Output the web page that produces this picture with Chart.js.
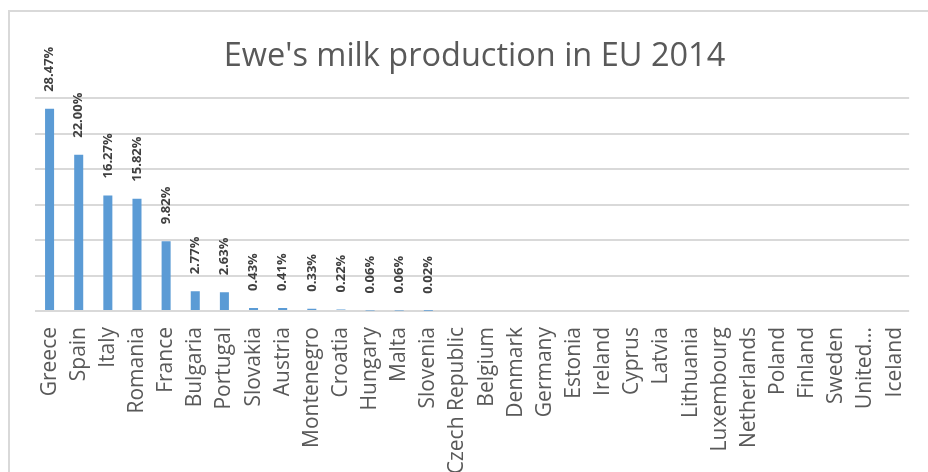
<!DOCTYPE html>
<html>
<head>
<meta charset="utf-8">
<title>Ewe's milk production in EU 2014</title>
<script src="https://cdn.jsdelivr.net/npm/chart.js@4/dist/chart.umd.min.js"></script>
<style>
  html, body { margin: 0; padding: 0; background: #fff; overflow: hidden; }
  #wrap { position: relative; width: 928px; height: 472px; }
  /* light frame round the chart, runs off the right and bottom edges */
  #frame { position: absolute; left: 8px; top: 10px; width: 940px; height: 480px;
           border: 2px solid #d9d9d9; box-sizing: border-box; }
  #myChart { position: absolute; left: 0; top: 0; }
</style>
</head>
<body>
<div id="wrap">
  <div id="frame"></div>
  <canvas id="myChart" width="928" height="472"></canvas>
</div>
<script>
// paises (share of EU ewe's milk, %)
var paises = ['Greece', 'Spain', 'Italy', 'Romania', 'France', 'Bulgaria', 'Portugal',
  'Slovakia', 'Austria', 'Montenegro', 'Croatia', 'Hungary', 'Malta', 'Slovenia',
  'Czech Republic', 'Belgium', 'Denmark', 'Germany', 'Estonia', 'Ireland', 'Cyprus',
  'Latvia', 'Lithuania', 'Luxembourg', 'Netherlands', 'Poland', 'Finland', 'Sweden',
  'United...', 'Iceland'];

var quotas = [28.47, 22.00, 16.27, 15.82, 9.82, 2.77, 2.63, 0.43, 0.41, 0.33, 0.22,
  0.06, 0.06, 0.02, null, null, null, null, null, null, null, null, null, null, null,
  null, null, null, null, null];

var eixoMax = 30;
var eixoPasso = 5;

var corTexto = '#595959';
var corGrelha = '#d9d9d9';

// rotulos verticais por cima de cada barra
var rotulos = {
  id: 'rotulos',
  afterDatasetsDraw: function (chart) {
    var ctx = chart.ctx;
    var meta = chart.getDatasetMeta(0);
    ctx.save();
    ctx.font = 'bold 13px "Open Sans"';
    ctx.fillStyle = '#404040';
    ctx.textAlign = 'left';
    ctx.textBaseline = 'middle';
    meta.data.forEach(function (bar, i) {
      var v = chart.data.datasets[0].data[i];
      if (v === null || v === undefined) return;
      ctx.save();
      ctx.translate(bar.x, bar.y - 17);
      ctx.rotate(-Math.PI / 2);
      ctx.fillText(v.toFixed(2) + '%', 0, 0);
      ctx.restore();
    });
    ctx.restore();
  }
};

var ctx = document.getElementById('myChart').getContext('2d');
var grafico = new Chart(ctx, {
  type: 'bar',
  data: {
    labels: paises,
    datasets: [{
      label: "Ewe's milk",
      data: quotas,
      backgroundColor: '#5b9bd5',
      categoryPercentage: 1,
      barPercentage: 0.31
    }]
  },
  options: {
    responsive: false,
    animation: false,
    layout: { padding: { left: 35, right: 14, top: 0, bottom: 0 } },
    plugins: {
      legend: { display: false },
      tooltip: { enabled: false },
      title: {
        display: true,
        text: "Ewe's milk production in EU 2014",
        color: corTexto,
        font: { family: '"Open Sans"', size: 32.5, weight: 'normal', lineHeight: 1.2 },
        padding: { top: 37, bottom: 22 }
      }
    },
    scales: {
      x: {
        grid: { display: false },
        border: { display: false },
        ticks: {
          autoSkip: false,
          minRotation: 90,
          maxRotation: 90,
          padding: 8,
          color: corTexto,
          font: { family: '"Open Sans"', size: 21 }
        },
        afterFit: function (s) { s.height = 161; }
      },
      y: {
        min: 0,
        max: eixoMax,
        ticks: { display: false, stepSize: eixoPasso },
        grid: { color: corGrelha, lineWidth: 2, drawTicks: false },
        border: { display: false },
        afterFit: function (s) { s.width = 0; }
      }
    }
  },
  plugins: [rotulos]
});
</script>
</body>
</html>
